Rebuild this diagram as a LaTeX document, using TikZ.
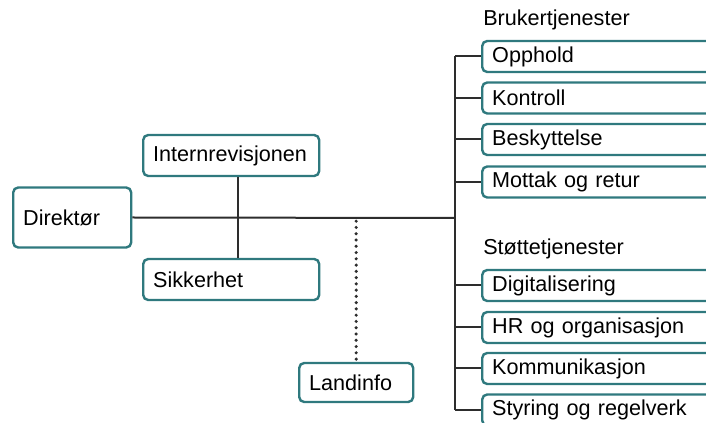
\documentclass[tikz,border=0pt]{standalone}
\usepackage{fontspec}
\setmainfont{Liberation Sans}
\definecolor{udiTeal}{RGB}{47,121,126}
\definecolor{udiLine}{RGB}{45,45,45}

\begin{document}
\begin{tikzpicture}[x=0.75pt, y=-0.75pt,
        every node/.style={font=\fontsize{16.2}{19}\selectfont},
        unit/.style={draw=udiTeal, line width=1.8pt, rounded corners=3.75pt, fill=white,
            anchor=west, align=left, inner xsep=7.5pt, inner ysep=0pt, text width=#1},
        link/.style={draw=udiLine, line width=1.5pt},
        staff/.style={draw=udiLine, line width=2.6pt, line cap=round, dash pattern=on 0pt off 4.7pt}]
        \useasboundingbox (0, 0) rectangle (706, 423);
        \clip (0, 0) rectangle (706, 423);

        \node[unit=73.5pt, minimum height=45pt] (dir) at (12, 217.5) {Direktør};
        \node[unit=117pt, minimum height=30.75pt] (intern) at (142, 155.5) {Internrevisjonen};
        \node[unit=117pt, minimum height=30.75pt] (sikk) at (142, 279.5) {Sikkerhet};
        \node[unit=70.5pt, minimum height=29.25pt] (land) at (298, 382.5) {Landinfo};

        \node[anchor=base west, inner sep=0pt] (bruk) at (483, 26) {Brukertjenester};
        \node[unit=182pt, minimum height=23.25pt] (opph) at (481, 56.5) {Opphold};
        \node[unit=182pt, minimum height=23.25pt] (kontr) at (481, 98) {Kontroll};
        \node[unit=182pt, minimum height=23.25pt] (besk) at (481, 139.5) {Beskyttelse};
        \node[unit=182pt, minimum height=23.25pt] (mott) at (481, 182) {Mottak og retur};

        \node[anchor=base west, inner sep=0pt] (stotte) at (483, 255) {Støttetjenester};
        \node[unit=182pt, minimum height=23.25pt] (digi) at (481, 285.5) {Digitalisering};
        \node[unit=182pt, minimum height=23.25pt] (hr) at (481, 327.5) {HR og organisasjon};
        \node[unit=182pt, minimum height=23.25pt] (komm) at (481, 368.5) {Kommunikasjon};
        \node[unit=182pt, minimum height=23.25pt] (styr) at (481, 410) {Styring og regelverk};

        \coordinate (spine) at (455, 218);

        \draw[link] (dir.east) -- (spine);
        \draw[link] ([xshift=5.25pt]intern.south) -- ([xshift=5.25pt]sikk.north);
        \draw[staff] ([yshift=-2.4pt]land.north |- spine) -- ([yshift=1.5pt]land.north);
        \draw[link] (opph.west -| spine) -- (styr.west -| spine);
        \foreach \u in {opph, kontr, besk, mott, digi, hr, komm, styr}
            \draw[link] (\u.west -| spine) -- (\u.west);

    \end{tikzpicture}
\end{document}
